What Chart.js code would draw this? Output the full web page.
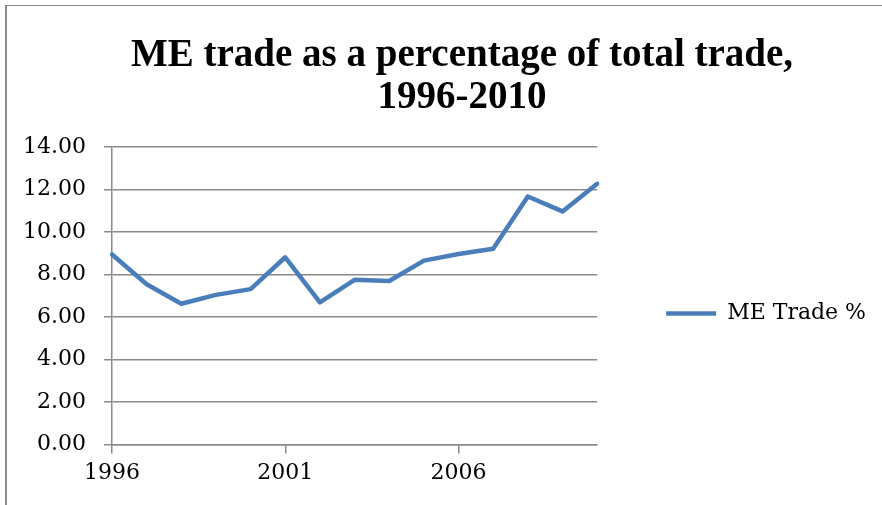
<!DOCTYPE html>
<html>
<head>
<meta charset="utf-8">
<script src="https://cdn.jsdelivr.net/npm/chart.js@4/dist/chart.umd.min.js"></script>
<style>
  body { margin: 0; background: #fff; }
  #wrap { position: relative; width: 882px; height: 505px; overflow: hidden; }
  #frame { position: absolute; left: 5px; top: 5px; width: 890px; height: 520px; z-index: 2;
           border-left: 2px solid #888; border-top: 1px solid #888; pointer-events: none; }
</style>
</head>
<body>
<div id="wrap">
  <div id="frame"></div>
  <canvas id="myChart"></canvas>
</div>
<script>
var years = ['1996', '1997', '1998', '1999', '2000', '2001', '2002', '2003',
             '2004', '2005', '2006', '2007', '2008', '2009', '2010'];
var meTrade = [8.95, 7.55, 6.63, 7.05, 7.32, 8.82, 6.70, 7.76,
               7.70, 8.66, 8.97, 9.22, 11.68, 10.98, 12.28];
var yTicks = [0, 2, 4, 6, 8, 10, 12, 14];

var gridGrey = '#8a8a8a';
var serif = "'DejaVu Serif', serif";

var ctx = document.getElementById('myChart').getContext('2d');
var myChart = new Chart(ctx, {
    type: 'line',
    data: {
      labels: years,
      datasets: [{
        label: 'ME Trade %',
        data: meTrade,
        borderColor: '#4a7ebb',
        backgroundColor: '#4a7ebb',
        borderWidth: 4.5,
        borderCapStyle: 'round',
        borderJoinStyle: 'round',
        pointRadius: 0,
        tension: 0
      }]
    },
    options: {
      responsive: true,
      maintainAspectRatio: false,
      animation: false,
      layout: {
        // title sits a bit right of the canvas centre, like the original
        padding: { left: 20, right: -22, top: 20, bottom: 13 }
      },
      plugins: {
        title: {
          display: true,
          text: ['ME trade as a percentage of total trade,', '1996-2010'],
          color: '#000',
          font: { family: "'Liberation Serif', serif", size: 39, weight: 'bold', lineHeight: 1.08 },
          padding: { top: 15, bottom: 28 }
        },
        legend: {
          position: 'right',
          fullSize: false,
          maxWidth: 400,
          title: { display: true, text: '', padding: { top: 0, bottom: 21 } },
          labels: {
            usePointStyle: true,
            pointStyle: 'line',
            pointStyleWidth: 50,
            boxWidth: 50,
            padding: 69,
            color: '#000',
            font: { family: serif, size: 22 },
            generateLabels: function(chart) {
              var items = Chart.defaults.plugins.legend.labels.generateLabels(chart);
              items.forEach(function(it) { it.text = it.text + '    '; });
              return items;
            }
          }
        },
        tooltip: { enabled: false }
      },
      scales: {
        x: {
          grid: {
            drawOnChartArea: false,
            tickLength: 9,
            lineWidth: 1.5,
            color: function(c) { return c.index % 5 === 0 ? gridGrey : 'rgba(0,0,0,0)'; }
          },
          border: { color: gridGrey, width: 1.5 },
          ticks: {
            autoSkip: false,
            maxRotation: 0,
            color: '#000',
            font: { family: serif, size: 22 },
            padding: 6,
            callback: function(v, i) { return i % 5 === 0 ? years[i] : ''; }
          }
        },
        y: {
          min: 0,
          max: 14,
          afterFit: function(scale) { scale.width = 92; },
          afterBuildTicks: function(scale) {
            scale.ticks = yTicks.map(function(v) { return { value: v }; });
          },
          grid: { color: gridGrey, lineWidth: 1.5, tickLength: 8 },
          border: { color: gridGrey, width: 1.5 },
          ticks: {
            color: '#000',
            font: { family: serif, size: 22 },
            padding: 18,
            callback: function(v) { return Number(v).toFixed(2); }
          }
        }
      }
    }
});
</script>
</body>
</html>
